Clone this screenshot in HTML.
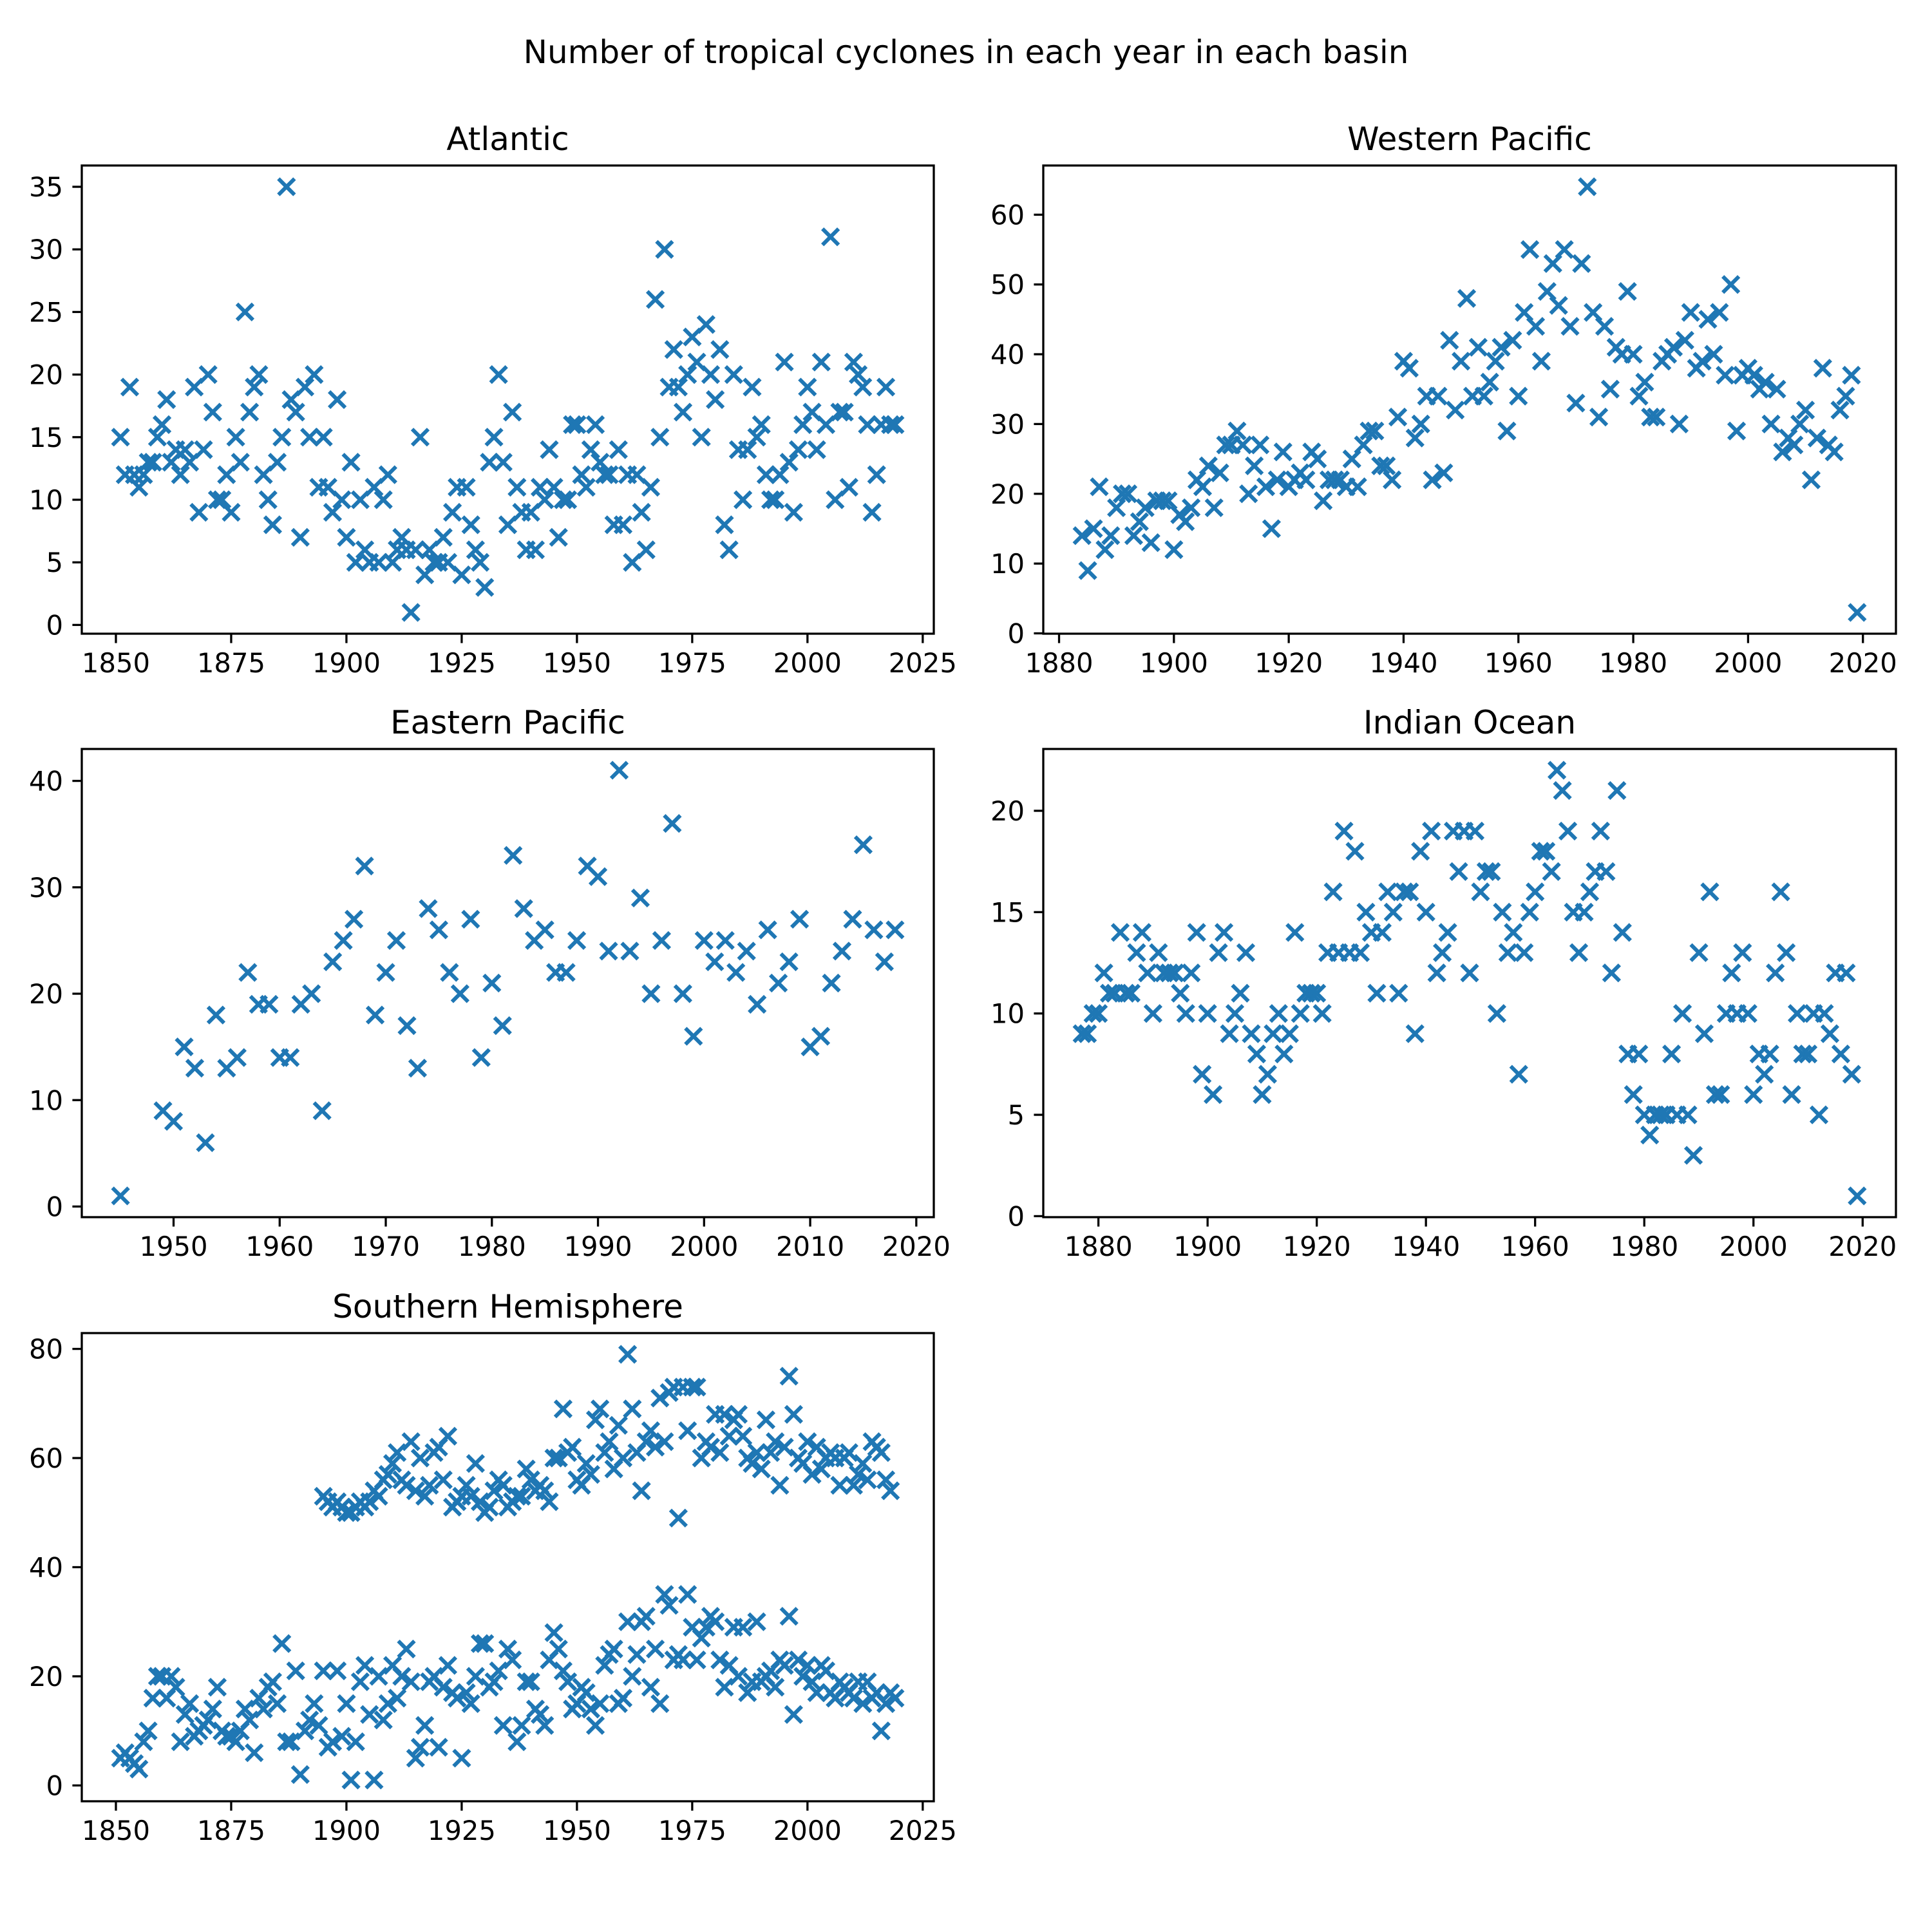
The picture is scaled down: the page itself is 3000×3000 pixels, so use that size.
<!DOCTYPE html>
<html><head><meta charset="utf-8">
<style>
html,body{margin:0;padding:0;background:#fff;}
svg{display:block;}
text{font-family:"DejaVu Sans","Liberation Sans",sans-serif;fill:#000;}
</style></head>
<body>
<svg id="fig" width="3000" height="3000" viewBox="0 0 3000 3000" xmlns="http://www.w3.org/2000/svg">
<rect x="0" y="0" width="3000" height="3000" fill="#fff"/>
<text x="1500" y="98" font-size="50" text-anchor="middle">Number of tropical cyclones in each year in each basin</text>
</svg>
<script>
// ---- data ----
const atlStart = 1851;
const atlValues = [15,12,19,12,11,12,13,13,15,16,18,13,14,12,14,13,19,9,14,20,17,10,10,12,9,15,13,25,17,19,20,12,10,8,13,15,35,18,17,7,19,15,20,11,15,11,9,18,10,7,13,5,10,6,5,11,5,10,12,5,6,7,6,1,6,15,4,6,5,5,7,5,9,11,4,11,8,6,5,3,13,15,20,13,8,17,11,9,6,9,6,11,10,14,11,7,10,10,16,16,12,11,14,16,13,12,12,8,14,8,12,5,12,9,6,11,26,15,30,19,22,19,17,20,23,21,15,24,20,18,22,8,6,20,14,10,14,19,15,16,12,10,10,12,21,13,9,14,16,19,17,14,21,16,31,10,17,17,11,21,20,19,16,9,12,16,19,16,16];
const atlTicksX = [1850,1875,1900,1925,1950,1975,2000,2025];
const atlTicksY = [0,5,10,15,20,25,30,35];

const wpStart = 1884;
const wpValues = [14,9,15,21,12,14,18,20,20,14,16,18,13,19,19,19,12,17,16,18,22,21,24,18,23,27,27,29,27,20,24,27,21,15,22,26,21,22,23,22,26,25,19,22,22,22,21,25,21,27,29,29,24,24,22,31,39,38,28,30,34,22,34,23,42,32,39,48,34,41,34,36,39,41,29,42,34,46,55,44,39,49,53,47,55,44,33,53,64,46,31,44,35,41,40,49,40,34,36,31,31,39,40,41,30,42,46,38,39,45,40,46,37,50,29,37,38,37,35,36,30,35,26,28,27,30,32,22,28,38,27,26,32,34,37,3];
const wpYears = wpValues.map((v,i)=> i===wpValues.length-1 ? 2019 : wpStart+i);
const wpTicksX = [1880,1900,1920,1940,1960,1980,2000,2020];
const wpTicksY = [0,10,20,30,40,50,60];

const epYears = [1945,1949,1950,1951,1952,1953,1954,1955,1956,1957,1958,1959,1960,1961,1962,1963,1964,1965,1966,1967,1968,1969,1970,1971,1972,1973,1974,1975,1976,1977,1978,1979,1980,1981,1982,1983,1984,1985,1986,1987,1988,1989,1990,1991,1992,1993,1994,1995,1996,1997,1998,1999,2000,2001,2002,2003,2004,2005,2006,2007,2008,2009,2010,2011,2012,2013,2014,2015,2016,2017,2018];
const epValues = [1,9,8,15,13,6,18,13,14,22,19,19,14,14,19,20,9,23,25,27,32,18,22,25,17,13,28,26,22,20,27,14,21,17,33,28,25,26,22,22,25,32,31,24,41,24,29,20,25,36,20,16,25,23,25,22,24,19,26,21,23,27,15,16,21,24,27,34,26,23,26];
const epTicksX = [1950,1960,1970,1980,1990,2000,2010,2020];
const epTicksY = [0,10,20,30,40];

const ioStart = 1877;
const ioValues = [9,9,10,10,12,11,11,14,11,11,13,14,12,10,13,12,12,12,11,10,12,14,7,10,6,13,14,9,10,11,13,9,8,6,7,9,10,8,9,14,10,11,11,11,10,13,16,13,19,13,18,13,15,14,11,14,16,15,11,16,16,9,18,15,19,12,13,14,19,17,19,12,19,16,17,17,10,15,13,14,7,13,15,16,18,18,17,22,21,19,15,13,15,16,17,19,17,12,21,14,8,6,8,5,4,5,5,5,8,5,10,5,3,13,9,16,6,6,10,12,10,13,10,6,8,7,8,12,16,13,6,10,8,8,10,5,10,9,12,8,12,7,1];
const ioTicksX = [1880,1900,1920,1940,1960,1980,2000,2020];
const ioTicksY = [0,5,10,15,20];

const shLowStart = 1851;
const shLowValues = [5,6,5,4,3,8,10,16,20,20,16,20,18,8,13,15,9,10,11,12,14,18,10,9,9,8,10,14,12,6,16,14,18,19,15,26,8,8,21,2,10,12,15,11,21,7,8,21,9,15,1,8,19,22,13,1,20,12,15,22,16,20,25,19,5,7,11,19,20,7,18,22,17,16,5,17,15,20,26,26,18,19,21,11,25,23,8,11,19,19,14,13,11,23,28,25,21,19,14,15,18,17,14,11,15,22,24,25,15,16,30,20,24,30,31,18,25,15,35,33,23,24,23,35,29,23,27,29,31,30,23,18,22,29,20,29,17,19,30,19,20,21,18,23,22,31,13,23,20,22,19,17,22,21,17,16,19,18,17,16,19,15,19,16,17,10,15,17,16];
const shHighStart = 1895;
const shHighValues = [53,52,51,52,51,50,50,51,52,51,52,54,53,56,57,59,61,56,55,63,54,60,53,55,61,62,56,64,51,52,53,55,53,59,52,50,51,54,56,55,51,52,53,53,58,56,54,55,54,52,60,60,69,61,62,56,55,59,57,67,69,61,63,58,66,60,79,69,61,54,63,65,62,71,63,72,73,49,73,65,73,73,60,63,62,68,61,68,64,67,68,64,60,59,61,58,67,61,63,55,62,75,68,60,59,63,57,62,58,60,61,60,55,60,61,55,57,59,56,63,62,61,56,54];
const shTicksX = [1850,1875,1900,1925,1950,1975,2000,2025];
const shTicksY = [0,20,40,60,80];

const atlYears = atlValues.map((v,i)=>atlStart+i);
const ioYears = ioValues.map((v,i)=>ioStart+i);
const shLowYears = shLowValues.map((v,i)=>shLowStart+i);
const shHighYears = shHighValues.map((v,i)=>shHighStart+i);

// ---- rendering ----
const NS = "http://www.w3.org/2000/svg";
const svg = document.getElementById('fig');
const COLOR = '#1f77b4';

function mk(tag, attrs, parent){
  const e = document.createElementNS(NS, tag);
  for (const k in attrs) e.setAttribute(k, attrs[k]);
  (parent||svg).appendChild(e);
  return e;
}
function lims(arrs){
  let mn=Infinity,mx=-Infinity;
  arrs.forEach(a=>a.forEach(v=>{if(v<mn)mn=v;if(v>mx)mx=v;}));
  const m=(mx-mn)*0.05;
  return [mn-m,mx+m];
}

function panel(key, title, box, xs, ys, xticks, yticks){
  const g = mk('g',{});
  
  
  const [L,T,R,B] = box;
  const xl = lims(xs), yl = lims(ys);
  const sx = v => L + (v-xl[0])/(xl[1]-xl[0])*(R-L);
  const sy = v => B - (v-yl[0])/(yl[1]-yl[0])*(B-T);
  const pg = mk('g',{stroke:COLOR,'stroke-width':6,'stroke-linecap':'butt'},g);
  
  
  const h = 12.5;
  xs.forEach((xa,si)=>{
    xa.forEach((x,i)=>{
      const cx=sx(x), cy=sy(ys[si][i]);
      const p = mk('path',{d:`M${cx-h},${cy-h}L${cx+h},${cy+h}M${cx-h},${cy+h}L${cx+h},${cy-h}`},pg);
      
      
    });
  });
  const fr = mk('rect',{x:L,y:T,width:R-L,height:B-T,fill:'none',stroke:'#000','stroke-width':3.3},g);
  
  
  xticks.forEach(t=>{
    const x=sx(t);
    const tl = mk('line',{x1:x,y1:B,x2:x,y2:B+14.6,stroke:'#000','stroke-width':3.3},g);
    
    
    const tx = mk('text',{x:x,y:B+60,'font-size':41.7,'text-anchor':'middle'},g);
    tx.textContent = t;
    
    
  });
  yticks.forEach(t=>{
    const y=sy(t);
    const tl = mk('line',{x1:L-14.6,y1:y,x2:L,y2:y,stroke:'#000','stroke-width':3.3},g);
    
    
    const tx = mk('text',{x:L-29,y:y+15,'font-size':41.7,'text-anchor':'end'},g);
    tx.textContent = t;
    
    
  });
  const tt = mk('text',{x:(L+R)/2,y:T-24,'font-size':50,'text-anchor':'middle'},g);
  tt.textContent = title;
  
  
}

const C1=[127,1450], C2=[1620,2944];
const R1=[257,984], R2=[1163,1890], R3=[2070,2797];
panel('atlantic','Atlantic',[C1[0],R1[0],C1[1],R1[1]],[atlYears],[atlValues],atlTicksX,atlTicksY);
panel('western-pacific','Western Pacific',[C2[0],R1[0],C2[1],R1[1]],[wpYears],[wpValues],wpTicksX,wpTicksY);
panel('eastern-pacific','Eastern Pacific',[C1[0],R2[0],C1[1],R2[1]],[epYears],[epValues],epTicksX,epTicksY);
panel('indian-ocean','Indian Ocean',[C2[0],R2[0],C2[1],R2[1]],[ioYears],[ioValues],ioTicksX,ioTicksY);
panel('southern-hemisphere','Southern Hemisphere',[C1[0],R3[0],C1[1],R3[1]],[shLowYears,shHighYears],[shLowValues,shHighValues],shTicksX,shTicksY);
</script>
</body></html>
